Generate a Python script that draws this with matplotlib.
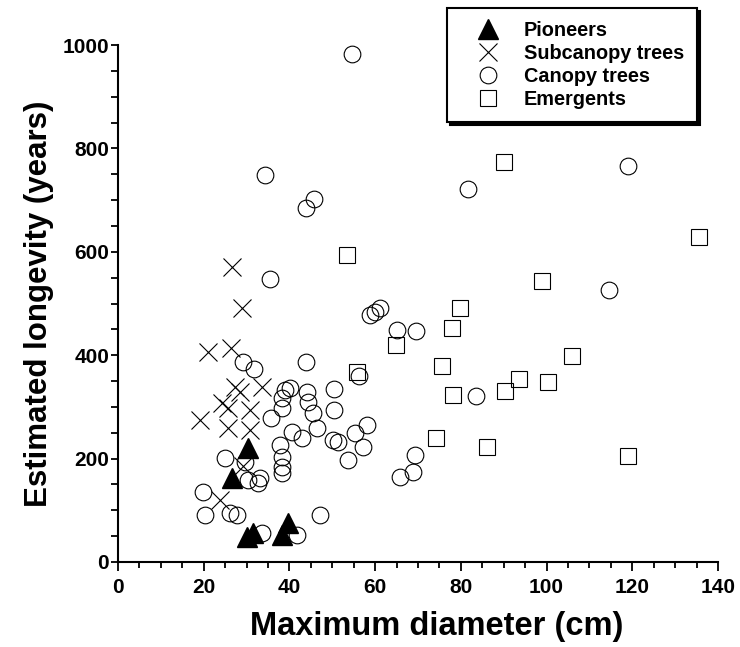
import matplotlib
matplotlib.use("Agg")
import matplotlib.pyplot as plt
from matplotlib.ticker import MultipleLocator

plt.rcParams['font.family'] = ['Liberation Sans', 'DejaVu Sans']
plt.rcParams['font.weight'] = 'bold'

# values
pioneer_d = [30.3, 26.6, 30.1, 31.5, 39.6, 38.3]
pioneer_y = [220, 162, 48, 56, 75, 52]

subcanopy_d = [26.6, 29.0, 21.0, 26.3, 33.6, 27.3, 28.5, 24.3, 25.6, 30.8,
               19.2, 25.6, 30.8, 29.2, 23.8]
subcanopy_y = [571, 491, 406, 414, 339, 339, 329, 307, 298, 294,
               275, 259, 255, 185, 120]

canopy_d = [54.6, 34.3, 43.8, 45.7, 81.7, 118.9, 114.6, 35.5, 58.8, 60.0,
            61.2, 65.1, 69.6, 56.3, 83.6, 29.2, 31.7, 43.8,
            38.9, 38.3, 38.3, 35.7, 37.8, 38.3, 38.3, 38.3, 25.0, 29.6,
            30.3, 32.7, 33.2,
            50.4, 50.4, 40.1, 44.1, 44.3, 45.5, 46.5, 40.6, 43.0, 50.2,
            51.4, 55.3, 58.1, 57.1, 53.7, 69.4, 68.9, 65.9,
            19.9, 20.4, 26.1, 27.8, 33.6, 41.8, 47.2]
canopy_y = [983, 749, 685, 702, 721, 766, 526, 547, 478, 484,
            491, 449, 447, 360, 321, 387, 373, 387,
            333, 317, 298, 278, 226, 203, 184, 172, 201, 193,
            159, 153, 162,
            335, 294, 336, 329, 310, 288, 259, 251, 240, 236,
            232, 249, 265, 222, 197, 207, 174, 165,
            135, 91, 95, 91, 56, 52, 91]

emergent_d = [90.1, 135.5, 99.0, 79.8, 78.0, 64.9, 55.8, 53.4, 75.6, 78.2,
              90.3, 93.6, 100.4, 106.0, 74.1, 86.1, 118.9]
emergent_y = [774, 629, 544, 491, 452, 420, 368, 594, 379, 323,
              331, 354, 348, 398, 240, 222, 205]

fig = plt.figure(figsize=(7.4, 6.47), dpi=100)
ax = fig.add_axes([0.1595, 0.1314, 0.8108, 0.799])

lw = 0.8
ax.plot(canopy_d, canopy_y, 'o', ms=12, mfc='none', mec='k', mew=lw,
        clip_on=False, label='Canopy trees', zorder=3)
ax.plot(emergent_d, emergent_y, 's', ms=12, mfc='none', mec='k', mew=lw,
        clip_on=False, label='Emergents', zorder=3)
ax.plot(subcanopy_d, subcanopy_y, 'x', ms=12.5, mec='k', mew=lw,
        clip_on=False, label='Subcanopy trees', zorder=3)
ax.plot(pioneer_d, pioneer_y, '^', ms=14, mfc='k', mec='k',
        clip_on=False, label='Pioneers', zorder=4)

ax.set_xlim(0, 140)
ax.set_ylim(0, 1000)
ax.xaxis.set_major_locator(MultipleLocator(20))
ax.xaxis.set_minor_locator(MultipleLocator(5))
ax.yaxis.set_major_locator(MultipleLocator(200))
ax.yaxis.set_minor_locator(MultipleLocator(50))
ax.tick_params(which='both', direction='out', width=1.3, labelsize=15)
ax.tick_params(which='major', length=6.5)
ax.tick_params(which='minor', length=4.5)
ax.tick_params(axis='y', which='both', length=5)
ax.tick_params(axis='x', pad=5)
ax.tick_params(axis='y', pad=1.5)

for s in ['top', 'right']:
    ax.spines[s].set_visible(False)
for s in ['left', 'bottom']:
    ax.spines[s].set_linewidth(1.5)

ax.set_xlabel('Maximum diameter (cm)', fontsize=23.5, fontweight='bold')
ax.xaxis.set_label_coords(0.531, -0.095)
ax.set_ylabel('Estimated longevity (years)', fontsize=22.5, fontweight='bold', labelpad=6)

h, l = ax.get_legend_handles_labels()
order = [3, 2, 0, 1]
leg = fig.legend([h[i] for i in order], [l[i] for i in order],
                 loc='upper right', bbox_to_anchor=(697 / 740, 1 - 8 / 647),
                 bbox_transform=fig.transFigure, fancybox=False,
                 edgecolor='k', framealpha=1, fontsize=14.3,
                 shadow={'color': 'k', 'alpha': 1},
                 handlelength=2.8, handletextpad=0.4, labelspacing=0.2,
                 borderpad=0.65, borderaxespad=0)
leg.get_frame().set_linewidth(1.5)

fig.savefig('out.png', dpi=100)
